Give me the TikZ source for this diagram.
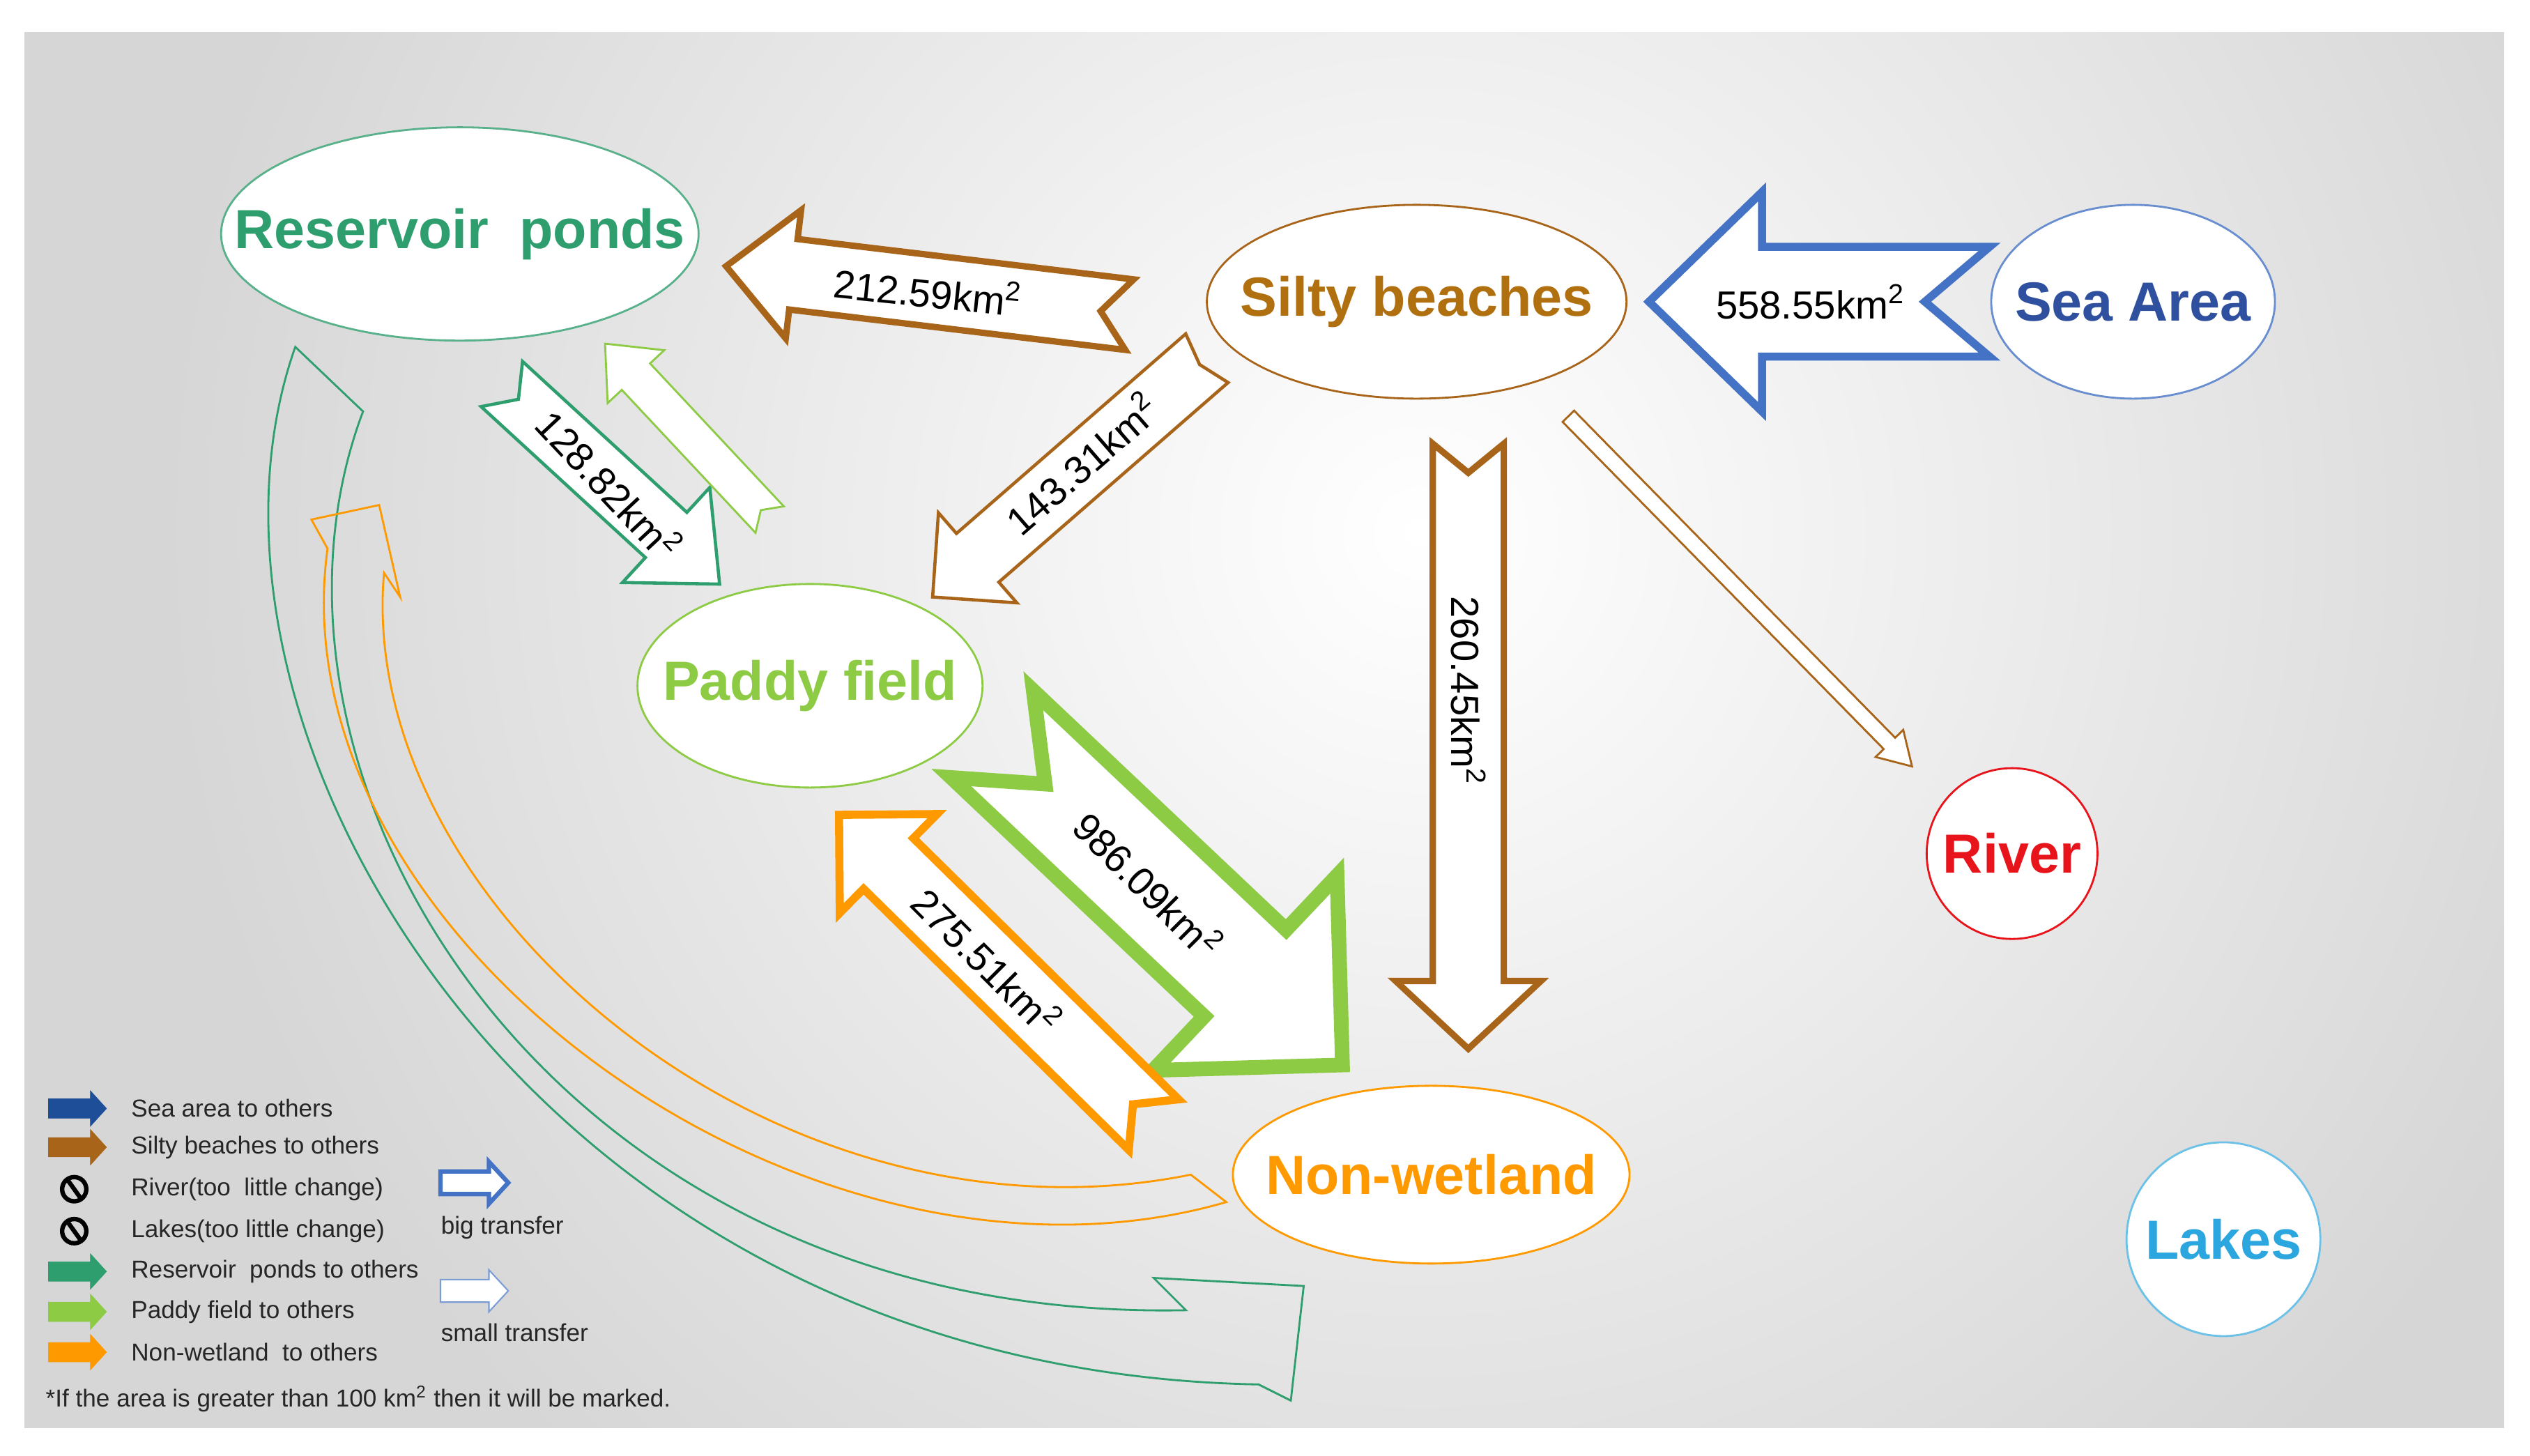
\documentclass[tikz,border=0pt]{standalone}
\usepackage{fontspec}
\setmainfont{Liberation Sans}
\usetikzlibrary{shapes.geometric}
\definecolor{bggray}{HTML}{D6D6D6}
\definecolor{resg}{HTML}{2E9E6E}
\definecolor{brn}{HTML}{A8651A}
\definecolor{brnt}{HTML}{B0700F}
\definecolor{blu}{HTML}{4472C4}
\definecolor{blut}{HTML}{2F4F9F}
\definecolor{pad}{HTML}{8DCB45}
\definecolor{org}{HTML}{FF9900}
\definecolor{rvr}{HTML}{E8141B}
\definecolor{lak}{HTML}{2BA6DE}
\definecolor{legblue}{HTML}{1F4E99}
\newcommand\barrow[9]{%
  \pgfmathsetmacro\bdx{#3-#1}\pgfmathsetmacro\bdy{#4-#2}%
  \pgfmathsetmacro\bang{atan2(-\bdy,\bdx)}%
  \pgfmathsetmacro\blen{veclen(\bdx,\bdy)}%
  \begin{scope}[shift={(#1,#2)},rotate=\bang]
  \draw[#9] (0,#5) -- (\blen-#7,#5) -- (\blen-#7,#6) -- (\blen,0) -- (\blen-#7,-#6) -- (\blen-#7,-#5) -- (0,-#5) -- (#8,0) -- cycle;
  \end{scope}}
\tikzset{
  region/.style={ellipse, draw, fill=white, line width=0.8pt, inner sep=0pt},
  rtext/.style={font=\fontsize{22.5}{26}\selectfont\bfseries},
  amt/.style={font=\fontsize{16}{18}\selectfont, text=black},
  leg/.style={anchor=west, font=\fontsize{10}{12}\selectfont, text=black!85},
}
\begin{document}
\begin{tikzpicture}[x=0.02315cm,y=-0.02315cm, line join=miter]
\useasboundingbox (0,0) rectangle (1568,902.3);
\fill[white] (0,0) rectangle (1568,902.3);
\begin{scope}
\clip (15,20) rectangle (1552,885);
\fill[bggray] (15,20) rectangle (1552,885);
\shade[inner color=white, outer color=bggray] (880,330) circle (780);
\end{scope}

% curved arrows
\draw[resg, line width=0.8pt] (225,255) .. controls (140,480) and (340,820) .. (735,812) -- (715,792) -- (808,797) -- (800,868) -- (780,858) .. controls (330,850) and (100,450) .. (183,215) -- cycle;
\draw[org, line width=0.8pt] (238,355) .. controls (220,560) and (480,780) .. (738,728) -- (760,745) .. controls (500,820) and (170,580) .. (203,340) -- (193,322) -- (235,313) -- (248,370) -- cycle;

% block arrows
\barrow{1233}{187}{1022}{187}{34}{68}{70}{40}{blu, fill=white, line width=3.3pt}
\barrow{700}{195}{450}{165}{22}{40}{42}{18}{brn, fill=white, line width=2.6pt}
\barrow{748}{222}{578}{370}{20}{37}{37}{6}{brn, fill=white, line width=1.3pt}
\barrow{910}{275}{910}{650}{22}{45}{42}{18}{brn, fill=white, line width=2.6pt}
\barrow{972}{258}{1185}{475}{5}{12}{20}{0}{brn, fill=white, line width=0.8pt}
\barrow{311}{238}{446}{362}{19}{40}{45}{14}{resg, fill=white, line width=1.3pt}
\barrow{477}{322}{375}{213}{12}{24}{28}{8}{pad, fill=white, line width=0.8pt}
\barrow{615}{455}{832}{660}{37}{83}{83}{45}{pad, fill=white, line width=6pt}
\barrow{715}{697}{520}{505}{22}{43}{43}{18}{org, fill=white, line width=3.3pt}

\node[amt] (l558) at (1122,187) {558.55km\textsuperscript{2}};
\node[amt, rotate=-6] (l212) at (575,180) {212.59km\textsuperscript{2}};
\node[amt, rotate=41] (l143) at (670,287) {143.31km\textsuperscript{2}};
\node[amt, rotate=-90] (l260) at (910,428) {260.45km\textsuperscript{2}};
\node[amt, rotate=-47] (l128) at (378,300) {128.82km\textsuperscript{2}};
\node[amt, rotate=-45] (l986) at (712,548) {986.09km\textsuperscript{2}};
\node[amt, rotate=-45] (l275) at (612,595) {275.51km\textsuperscript{2}};

% regions
\node[region, draw=resg!80, minimum width=6.85cm, minimum height=3.06cm] (res) at (285,145) {};
\node[rtext, text=resg] (rest) at (res) {Reservoir\ \ ponds};
\node[region, draw=brn, minimum width=6.02cm, minimum height=2.78cm] (silt) at (878,187) {};
\node[rtext, text=brnt] (siltt) at (silt) {Silty beaches};
\node[region, draw=blu!80, minimum width=4.07cm, minimum height=2.78cm] (sea) at (1322,187) {};
\node[rtext, text=blut] (seat) at (sea) {Sea Area};
\node[region, draw=pad, minimum width=4.95cm, minimum height=2.92cm] (paddy) at (502,425) {};
\node[rtext, text=pad] (paddyt) at (paddy) {Paddy field};
\node[region, circle, draw=rvr, minimum size=2.45cm] (river) at (1247,529) {};
\node[rtext, text=rvr] (rivert) at (river) {River};
\node[region, draw=org, minimum width=5.69cm, minimum height=2.55cm] (nonw) at (887,728) {};
\node[rtext, text=org] (nonwt) at (nonw) {Non-wetland};
\node[region, circle, draw=lak!70, minimum size=2.78cm] (lakes) at (1378,768) {};
\node[rtext, text=lak] (lakest) at (lakes) {Lakes};

% legend
\barrow{30}{687}{66}{687}{6}{11}{10}{0}{legblue, fill=legblue, line width=0.2pt}
\barrow{30}{711}{66}{711}{6}{11}{10}{0}{brn, fill=brn, line width=0.2pt}
\barrow{30}{788}{66}{788}{6}{11}{10}{0}{resg, fill=resg, line width=0.2pt}
\barrow{30}{813}{66}{813}{6}{11}{10}{0}{pad, fill=pad, line width=0.2pt}
\barrow{30}{838}{66}{838}{6}{11}{10}{0}{org, fill=org, line width=0.2pt}
\draw[line width=1.8pt] (46,737) circle (7.5) (41,730) -- (51,744);
\draw[line width=1.8pt] (46,763) circle (7.5) (41,756) -- (51,770);
\node[leg] (t1) at (76,687) {Sea area to others};
\node[leg] (t2) at (76,711) {Silty beaches to others};
\node[leg] (t3) at (76,737) {River(too\ \ little change)};
\node[leg] (t4) at (76,763) {Lakes(too little change)};
\node[leg] (t5) at (76,788) {Reservoir\ \ ponds to others};
\node[leg] (t6) at (76,813) {Paddy field to others};
\node[leg] (t7) at (76,838) {Non-wetland\ \ to others};
\barrow{273}{733}{315}{733}{7}{13}{12}{0}{blu, fill=white, line width=1.8pt}
\barrow{273}{800}{315}{800}{7}{13}{12}{0}{blu!70, fill=white, line width=0.6pt}
\node[leg] (tb) at (268,761) {big transfer};
\node[leg] (ts) at (268,826) {small transfer};
\node[leg] (fn) at (23,867) {*If the area is greater than 100 km\textsuperscript{2} then it will be marked.};
\end{tikzpicture}
\end{document}
